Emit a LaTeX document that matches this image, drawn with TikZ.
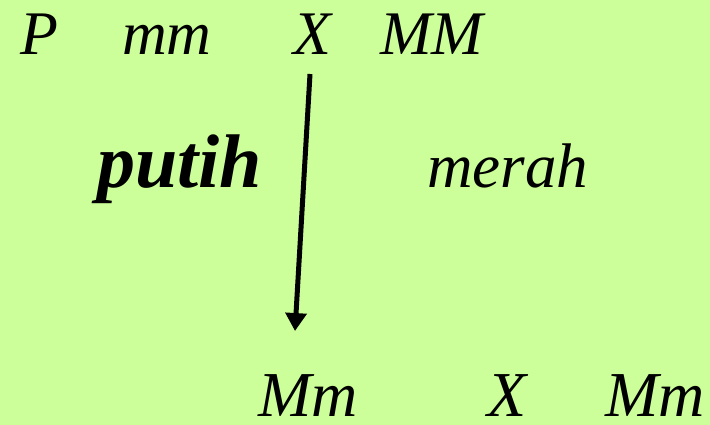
\documentclass[tikz,border=0pt]{standalone}
\usepackage{fontspec}
\setmainfont{Liberation Serif}
\usetikzlibrary{arrows.meta,positioning}

\begin{document}
\begin{tikzpicture}[
  x=1pt, y=-1pt,
  >=Triangle,
  gen/.style={inner sep=0pt, anchor=base west, font=\fontsize{62}{70}\selectfont\itshape},
  child/.style={gen, text depth=0pt, font=\fontsize{64}{72}\selectfont\itshape},
  trait/.style={gen, font=\fontsize{63}{70}\selectfont\itshape},
  line/.style={->, line width=5pt}
]

% background
\fill[fill={rgb,255:red,204;green,255;blue,153}] (0,0) rectangle (710,425);
\useasboundingbox (0,0) rectangle (710,425);

% parents
\node[gen] (p) at (20,55) {P};
\node[gen] (pm) at (122,55) {mm};
\node[gen] (px) at (293,55) {X};
\node[gen] (pM) at (380,55) {MM};

% phenotypes
\node[trait, font=\fontsize{76}{82}\selectfont\bfseries\itshape] (white) at (97,188) {putih};
\node[trait] (red) at (427,188) {merah};

% offspring
\node[child] (f1) at (258,416) {Mm};
\node[child] (fx) at (487,416) {X};
\node[child] (f2) at (605,416) {Mm};

\coordinate (top) at (310,74);
\coordinate (tip) at (295,331);
\draw[line] (top) -- (tip);

\end{tikzpicture}
\end{document}
